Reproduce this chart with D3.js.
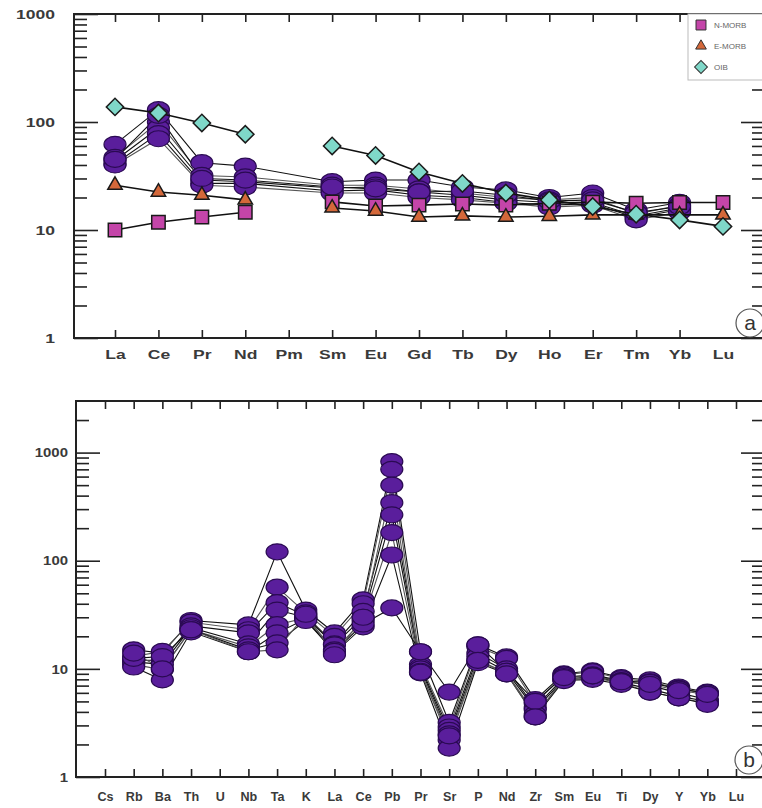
<!DOCTYPE html>
<html>
<head>
<meta charset="utf-8">
<script src="https://cdn.jsdelivr.net/npm/d3@7"></script>
<style>
body { margin: 0; background: #fff; }
text { font-family: "Liberation Sans", Arial, sans-serif; }
</style>
</head>
<body>
<script>
// panel a: chondrite-normalised REE
var reeCats = ["La", "Ce", "Pr", "Nd", "Pm", "Sm", "Eu", "Gd", "Tb", "Dy", "Ho", "Er", "Tm", "Yb", "Lu"];
var nmorb = [10, 11.8, 13.2, 14.6, null, 18.2, 16.7, 17, 17.4, 17, 17.7, 18.1, 17.7, 18, 18];
var emorb = [26, 22.5, 21, 19, null, 16, 15, 13.2, 13.5, 13.2, 13.4, 13.8, 13.8, 13.8, 13.8];
var oib = [138, 121, 98, 77, null, 60, 49, 34.5, 27, 22, 19, 16.5, 14, 12.4, 10.8];
var reeSamples = [
  [62, 130, 42, 39, null, 28, 29, 29, 25, 23.5, 20, 22, 15.3, 18, null],
  [47, 100, 32, 31, null, 26, 26, 24, 22, 20, 19, 20, 14, 17, null],
  [44, 88, 29, 28, null, 24.5, 25, 22.5, 21, 19, 18, 18, 13.5, 16, null],
  [41, 78, 27, 27, null, 23, 23.5, 21, 20, 18, 17, 17.5, 13, 15.5, null],
  [40, 70, 26, 25, null, 22, 22, 20, 19, 17.7, 16.3, 17, 12.4, 14.7, null],
  [45, 115, 30, 29, null, 25, 24, 22.5, 23, 21, 18.5, 19, 14.5, 16.5, null]
];
var reeTicks = [1, 10, 100, 1000];

// panel b: primitive-mantle-normalised spider diagram
var spiderCats = ["Cs", "Rb", "Ba", "Th", "U", "Nb", "Ta", "K", "La", "Ce", "Pb", "Pr", "Sr", "P", "Nd", "Zr", "Sm", "Eu", "Ti", "Dy", "Y", "Yb", "Lu"];
var spiderSamples = [
  [null, 15, 14, 28, null, 25.5, 121, 35, 21.5, 43.5, 826, 14.4, 3.2, 16.7, 12.9, 5.2, 9, 9.6, 8.3, 7.9, 6.8, 6.1, null],
  [null, 13, 14.5, 27, null, 23, 57, 33, 20, 40, 700, 11, 2.9, 16, 12.5, 4.8, 8.8, 9.4, 8.1, 7.6, 6.6, 5.9, null],
  [null, 12, 12, 25, null, 21.5, 41, 31, 17, 34, 344, 10.4, 2.7, 14, 10, 4.4, 8.3, 8.8, 7.8, 7, 6, 5.2, null],
  [null, 11.6, 11, 24, null, 17, 35, 30, 16.7, 30, 266, 10, 2.5, 13, 9.5, 4.2, 8, 8.5, 7.5, 6.5, 5.6, 5, null],
  [null, 11, 9.8, 23, null, 16, 25.6, 29.6, 15, 28, 182, 9.5, 2.2, 12, 9.2, 3.8, 7.9, 8.3, 7.4, 6.1, 5.4, 4.8, null],
  [null, 10.4, 7.9, 22, null, 14.4, 21.5, 29, 14, 24.5, 113, 9.2, 1.85, 11.4, 9, 3.6, 7.8, 8, 7.2, 6.1, 5.4, 4.7, null],
  [null, 12.5, 13, 23, null, 15, 17.4, 28, 14.5, 26, 36.6, 14.4, 6.1, 16.7, 9.5, 5, 8.5, 8.6, 7.7, 7.5, 6.5, 6, null],
  [null, 14, 10, 23, null, 14.4, 15, 32, 13.5, 30, 500, 9.3, 2.4, 12, 9, 3.6, 8.3, 8.6, 7.6, 7.2, 6.3, 5.8, null]
];
var spiderTicks = [1, 10, 100, 1000];

var svg = d3.select("body").append("svg").attr("width", 762).attr("height", 808);

var purple = "#5a1e9c";
var purpleEdge = "#2a0a52";

function minorTicks(lo, hi) {
  var out = [];
  for (var p = lo; p < hi; p *= 10) {
    for (var k = 2; k <= 9; k++) if (p * k < hi) out.push(p * k);
  }
  return out;
}

// the labels in the figure are a wide, heavy sans: stretch them sideways
function styleLabels(sel, size, stretch) {
  sel.selectAll("text").attr("font-size", size).attr("font-weight", "bold").attr("fill", "#3a3a3a")
    .attr("font-family", "Liberation Sans, Arial, sans-serif")
    .attr("transform", "scale(" + stretch + ",1)");
}

function drawFrame(g, x, y, box, majors, yMax) {
  var minors = minorTicks(1, yMax);
  // left axis (ticks point inward)
  g.append("g").attr("transform", "translate(" + box.l + ",0)")
    .call(d3.axisRight(y).tickValues(minors).tickSize(13).tickFormat(""));
  g.append("g").attr("transform", "translate(" + box.l + ",0)")
    .call(d3.axisRight(y).tickValues(majors).tickSize(24).tickFormat(""));
  // right axis
  g.append("g").attr("transform", "translate(" + box.r + ",0)")
    .call(d3.axisLeft(y).tickValues(minors).tickSize(13).tickFormat(""));
  g.append("g").attr("transform", "translate(" + box.r + ",0)")
    .call(d3.axisLeft(y).tickValues(majors).tickSize(24).tickFormat(""));
  // y labels
  var lab = g.append("g").attr("transform", "translate(" + box.labX + ",0)")
    .call(d3.axisLeft(y).tickValues(majors).tickSize(0).tickPadding(0).tickFormat(d3.format("d")));
  lab.select(".domain").remove();
  styleLabels(lab, 13, box.yStretch);
  // category ticks
  g.append("g").attr("transform", "translate(0," + box.t + ")")
    .call(d3.axisBottom(x).tickValues(box.tickCats).tickSize(8).tickFormat(""));
  g.append("g").attr("transform", "translate(0," + box.b + ")")
    .call(d3.axisTop(x).tickValues(box.tickCats).tickSize(8).tickFormat(""));
  var xl = g.append("g").attr("transform", "translate(0," + box.b + ")")
    .call(d3.axisBottom(x).tickSize(0).tickPadding(box.pad));
  xl.select(".domain").remove();
  styleLabels(xl, box.xSize, box.xStretch);
  g.selectAll(".tick line").attr("stroke", "#222").attr("stroke-width", 1.6);
  g.selectAll(".domain").remove();
  // frame
  g.append("rect").attr("x", box.l).attr("y", box.t)
    .attr("width", box.r - box.l).attr("height", box.b - box.t)
    .attr("fill", "none").attr("stroke", "#222").attr("stroke-width", 2);
}

function panelLabel(g, cx, cy, txt) {
  g.append("circle").attr("cx", cx).attr("cy", cy).attr("r", 14)
    .attr("fill", "#fff").attr("stroke", "#555").attr("stroke-width", 1.2);
  g.append("text").attr("x", cx).attr("y", cy + 7).attr("text-anchor", "middle")
    .attr("font-size", 21).attr("fill", "#333").text(txt);
}

function drawSamples(g, x, y, cats, rows, rx, ry) {
  rows.forEach(function(row, i) {
    var pts = cats.map(function(c, j) { return { c: c, v: row[j] }; })
      .filter(function(d) { return d.v != null; });
    g.append("path").datum(pts)
      .attr("d", d3.line().x(function(d) { return x(d.c); }).y(function(d) { return y(d.v); }))
      .attr("fill", "none").attr("stroke", i % 3 == 1 ? "#555" : "#111").attr("stroke-width", 1.1);
  });
  rows.forEach(function(row) {
    var pts = cats.map(function(c, j) { return { c: c, v: row[j] }; })
      .filter(function(d) { return d.v != null; });
    g.selectAll(null).data(pts).enter().append("ellipse")
      .attr("cx", function(d) { return x(d.c); })
      .attr("cy", function(d) { return y(d.v); })
      .attr("rx", rx).attr("ry", ry)
      .attr("fill", purple).attr("stroke", purpleEdge).attr("stroke-width", 1.2);
  });
}

// ---------- panel a ----------
var boxA = { l: 74, r: 765, t: 14, b: 338, labX: 55, pad: 12, xSize: 13, xStretch: 1.35, yStretch: 1.35,
  tickCats: reeCats.slice(0, 14) };
var xA = d3.scalePoint().domain(reeCats).range([115, 723]);
var yA = d3.scaleLog().domain([1, 1000]).range([338, 14]);
var gA = svg.append("g");
drawFrame(gA, xA, yA, boxA, reeTicks, 1000);
drawSamples(gA, xA, yA, reeCats, reeSamples, 11, 8);

var refs = [
  { name: "N-MORB", vals: nmorb, shape: "square", fill: "#c445a9" },
  { name: "E-MORB", vals: emorb, shape: "triangle", fill: "#d4683a" },
  { name: "OIB", vals: oib, shape: "diamond", fill: "#7fd8c9" }
];
var symSize = { square: 180, triangle: 90, diamond: 150 };
var symType = { square: d3.symbolSquare, triangle: d3.symbolTriangle, diamond: d3.symbolSquare };
var symRot = { square: "", triangle: "", diamond: " rotate(45)" };

refs.forEach(function(s) {
  var pts = reeCats.map(function(c, j) { return { c: c, v: s.vals[j] }; });
  gA.append("path").datum(pts)
    .attr("d", d3.line().defined(function(d) { return d.v != null; })
      .x(function(d) { return xA(d.c); }).y(function(d) { return yA(d.v); }))
    .attr("fill", "none").attr("stroke", "#111").attr("stroke-width", 1.6);
});
refs.forEach(function(s) {
  var pts = reeCats.map(function(c, j) { return { c: c, v: s.vals[j] }; })
    .filter(function(d) { return d.v != null; });
  gA.selectAll(null).data(pts).enter().append("path")
    .attr("transform", function(d) {
      return "translate(" + xA(d.c) + "," + yA(d.v) + ")" + symRot[s.shape];
    })
    .attr("d", d3.symbol().type(symType[s.shape]).size(symSize[s.shape]))
    .attr("fill", s.fill).attr("stroke", "#1a1a1a").attr("stroke-width", 1.5);
});

// legend
var leg = gA.append("g");
leg.append("rect").attr("x", 688).attr("y", 14).attr("width", 80).attr("height", 66)
  .attr("fill", "#fff").attr("stroke", "#bbb");
refs.forEach(function(s, i) {
  var ly = 25 + i * 21;
  leg.append("path")
    .attr("transform", "translate(701," + ly + ")" + symRot[s.shape])
    .attr("d", d3.symbol().type(symType[s.shape]).size(symSize[s.shape] * 0.55))
    .attr("fill", s.fill).attr("stroke", "#333").attr("stroke-width", 1);
  leg.append("text").attr("x", 714).attr("y", ly + 3).attr("font-size", 8)
    .attr("fill", "#666").text(s.name);
});
panelLabel(gA, 750, 323, "a");

// ---------- panel b ----------
var boxB = { l: 76, r: 765, t: 401, b: 777, labX: 68, pad: 15, xSize: 12, xStretch: 1.05, yStretch: 1.15,
  tickCats: spiderCats };
var xB = d3.scalePoint().domain(spiderCats).range([105, 736]);
var yB = d3.scaleLog().domain([1, 3000]).range([777, 401]);
var gB = svg.append("g");
drawFrame(gB, xB, yB, boxB, spiderTicks, 3000);
drawSamples(gB, xB, yB, spiderCats, spiderSamples, 11, 8);
panelLabel(gB, 749, 760, "b");
</script>
</body>
</html>
